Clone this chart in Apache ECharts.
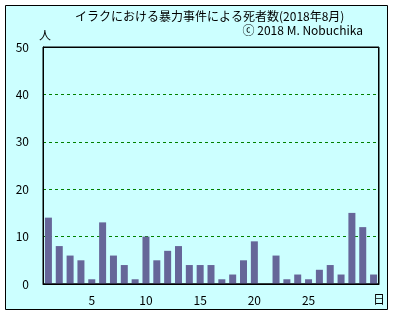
<!DOCTYPE html>
<html><head><meta charset="utf-8">
<script src="https://cdn.jsdelivr.net/npm/echarts@6/dist/echarts.min.js"></script>
<style>html,body{margin:0;padding:0;background:#fff;}#c{width:393px;height:315px;}</style>
</head><body><div id="c"></div>
<script>
const days = Array.from({length:31}, (_, i) => String(i + 1));
const deaths = [14,8,6,5,1,13,6,4,1,10,5,7,8,4,4,4,1,2,5,9,0,6,1,2,1,3,4,2,15,12,2];
const xTickLabels = ['5','10','15','20','25'];
const yTicks = [0,10,20,30,40,50];
const titleText = 'イラクにおける暴力事件による死者数(2018年8月)';
const subText = 'ⓒ 2018 M. Nobuchika';
const font = '"Noto Sans CJK JP", "Liberation Sans", sans-serif';

const chart = echarts.init(document.getElementById('c'), null, {renderer: 'canvas'});
chart.setOption({
  animation: false,
  backgroundColor: '#fff',
  graphic: [
    {type: 'rect', z: -10, shape: {x: 5.5, y: 5.5, width: 382, height: 304}, style: {fill: '#ccffff', stroke: '#000', lineWidth: 1}},
    {type: 'rect', z: 100, shape: {x: 43.5, y: 47.5, width: 335, height: 236.5}, style: {fill: null, stroke: '#000', lineWidth: 1}},
    {type: 'text', left: 75, top: 10, style: {text: titleText, font: '12px ' + font, fill: '#000'}},
    {type: 'text', right: 30, top: 24, style: {text: subText, font: '12px ' + font, fill: '#000'}},
    {type: 'text', left: 39, top: 29, style: {text: '人', font: '12px ' + font, fill: '#000'}},
    {type: 'text', left: 373, top: 293, style: {text: '日', font: '12px ' + font, fill: '#000'}}
  ],
  grid: {left: 43, top: 47, right: 14, bottom: 31, show: true, borderColor: '#000', borderWidth: 1, backgroundColor: '#ccffff'},
  xAxis: {
    type: 'category', data: days, boundaryGap: true,
    axisLine: {lineStyle: {color: '#000', width: 1}},
    axisTick: {show: false},
    axisLabel: {color: '#000', fontSize: 12, fontFamily: font, margin: 10,
      interval: (i, v) => xTickLabels.includes(v)}
  },
  yAxis: {
    type: 'value', min: yTicks[0], max: yTicks[yTicks.length - 1], interval: 10,
    axisLine: {show: true, lineStyle: {color: '#000'}},
    axisTick: {show: false},
    axisLabel: {color: '#000', fontSize: 12, fontFamily: font, margin: 14},
    splitLine: {show: true, lineStyle: {color: '#008000', type: [3, 3], width: 1}}
  },
  series: [{
    type: 'bar', data: deaths, barWidth: 7,
    itemStyle: {color: '#666699'}
  }]
});
</script></body></html>
